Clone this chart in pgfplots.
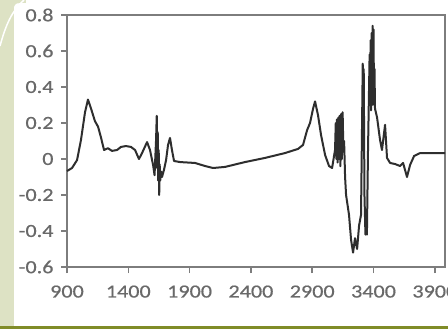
\documentclass[border=0pt]{standalone}
\usepackage{pgfplots}
\pgfplotsset{compat=1.18}
\usepackage{fontspec}
\setmainfont{Carlito}
\newfontfamily\labfont[FakeStretch=1.2, FakeBold=0.6]{Carlito}
\definecolor{beige}{RGB}{221,226,196}
\definecolor{olive}{RGB}{128,140,40}
\definecolor{lab}{RGB}{105,105,105}
\definecolor{frame}{RGB}{125,125,125}
\begin{document}
\begin{tikzpicture}[x=1bp,y=1bp]
\useasboundingbox (0,0) rectangle (448,329);
\fill[beige] (0,0) rectangle (448,329);
\fill[white] (14,3) -- (14,322) .. controls (16,326) .. (26,326) -- (26,329) -- (448,329) -- (448,3) -- cycle;
\fill[olive] (0,0) rectangle (448,3);
\draw[white, line width=1.5bp] (0,283) .. controls (6,305) and (12,318) .. (24,329);
\begin{axis}[
  at={(67bp,62bp)}, anchor=south west,
  width=378bp, height=252bp, scale only axis,
  xmin=900, xmax=3983, ymin=-0.6, ymax=0.8,
  xtick={900,1400,1900,2400,2900,3400,3900},
  xticklabels={900,1400,1900,2400,2900,3400,3900},
  ytick={-0.6,-0.4,-0.2,0,0.2,0.4,0.6,0.8},
  yticklabels={-0.6,-0.4,-0.2,0,0.2,0.4,0.6,0.8},
  xtick pos=bottom, ytick pos=left,
  tick align=outside, major tick length=6bp,
  tick style={frame, line width=1.6bp},
  axis line style={frame, line width=2.2bp},
  ticklabel style={font=\labfont\fontsize{18.5}{18.5}\selectfont, text=lab},
  xticklabel style={yshift=-9bp},
  yticklabel style={xshift=-4bp},
  clip=false,
]
\addplot[black!82, line width=2bp, line join=round] coordinates {
(900,-0.067) (941,-0.05) (982,-0.006) (1014,0.106) (1047,0.26) (1071,0.33)
(1096,0.28) (1128,0.21) (1153,0.18) (1177,0.12) (1202,0.05) (1234,0.06)
(1267,0.045) (1308,0.05) (1340,0.067) (1381,0.072) (1422,0.067) (1455,0.05)
(1487,0.0) (1512,0.033) (1553,0.094) (1577,0.05) (1602,-0.033) (1614,-0.09)
(1626,0.1) (1632,0.24) (1636,-0.05) (1640,0.15) (1644,-0.12) (1648,0.05)
(1652,-0.2) (1656,-0.03) (1660,-0.12) (1668,-0.07) (1675,-0.1) (1691,-0.06)
(1708,-0.006) (1724,0.078) (1740,0.117) (1756,0.05) (1773,-0.011) (1822,-0.017)
(1944,-0.022) (2026,-0.039) (2091,-0.05) (2189,-0.044) (2352,-0.017) (2515,0.006)
(2678,0.033) (2784,0.056) (2825,0.078) (2858,0.16) (2882,0.2) (2907,0.28)
(2923,0.32) (2947,0.244) (2972,0.133) (3005,0.022) (3037,-0.039) (3062,-0.05)
(3086,0.05) (3092,0.2) (3097,0.0) (3102,0.22) (3107,-0.02) (3113,0.23)
(3118,0.0) (3124,0.24) (3130,-0.04) (3136,0.25) (3142,0.0) (3148,0.26)
(3154,0.05) (3160,0.1) (3168,-0.1) (3176,-0.2) (3200,-0.31) (3217,-0.45)
(3233,-0.52) (3249,-0.44) (3266,-0.5) (3282,-0.37) (3298,-0.31) (3312,0.53)
(3316,0.05) (3320,0.5) (3326,-0.2) (3334,-0.42) (3340,-0.38) (3346,-0.42)
(3355,0.05) (3368,0.58) (3372,0.3) (3376,0.66) (3380,0.27) (3384,0.7)
(3388,0.3) (3392,0.74) (3396,0.35) (3400,0.72) (3404,0.3) (3408,0.5)
(3412,0.28) (3429,0.23) (3453,0.106) (3469,0.05) (3494,0.19)
(3510,0.006) (3535,-0.022) (3576,-0.028) (3616,-0.039) (3641,-0.022) (3673,-0.1)
(3698,-0.033) (3731,0.017) (3780,0.033) (3983,0.033)
};
\end{axis}
\end{tikzpicture}
\end{document}
